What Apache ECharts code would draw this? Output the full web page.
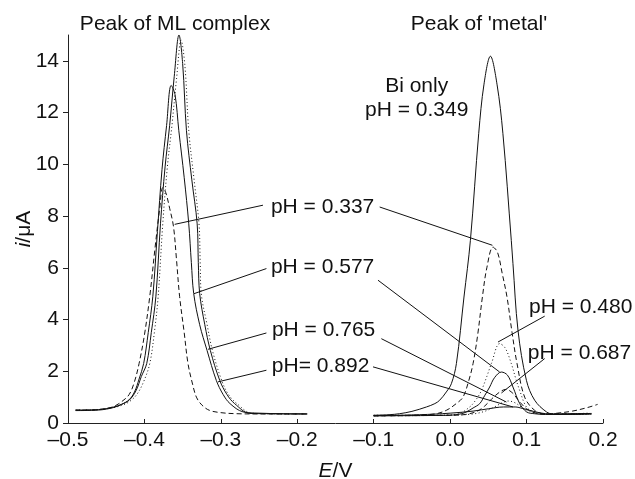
<!DOCTYPE html>
<html>
<head>
<meta charset="utf-8">
<script src="https://cdn.jsdelivr.net/npm/echarts@6/dist/echarts.min.js"></script>
<style>html,body{margin:0;padding:0;background:#fff}#c{width:635px;height:479px}</style>
</head>
<body>
<div id="c"></div>
<script>
// ---- Data: [E / V, i / uA] ----
// Peak of ML complex (left group)
const ml_pH0337 = [[-0.49,0.5],[-0.47,0.5],[-0.45,0.56],[-0.44,0.64],[-0.43,0.82],[-0.42,1.1],[-0.413,1.6],[-0.407,2.3],[-0.4,3.4],[-0.393,4.9],[-0.386,6.8],[-0.38,8.3],[-0.376,9.1],[-0.372,8.9],[-0.367,8.3],[-0.362,7.6],[-0.358,6.3],[-0.354,4.9],[-0.348,3.5],[-0.343,2.3],[-0.337,1.5],[-0.332,1.0],[-0.325,0.7],[-0.315,0.49],[-0.3,0.4],[-0.28,0.36],[-0.25,0.35],[-0.22,0.35],[-0.187,0.35]];
const ml_pH0577 = [[-0.49,0.48],[-0.46,0.5],[-0.44,0.6],[-0.43,0.72],[-0.42,0.9],[-0.413,1.2],[-0.407,1.7],[-0.401,2.3],[-0.395,3.5],[-0.389,4.9],[-0.383,7.4],[-0.377,9.8],[-0.371,11.5],[-0.365,13.05],[-0.36,12.7],[-0.355,11.3],[-0.348,9.5],[-0.342,7.7],[-0.3386,6.2],[-0.3355,5.0],[-0.3277,3.8],[-0.318,2.8],[-0.306,1.65],[-0.297,1.1],[-0.288,0.75],[-0.271,0.43],[-0.25,0.38],[-0.22,0.36],[-0.187,0.35]];
const ml_pH0765 = [[-0.49,0.5],[-0.46,0.52],[-0.44,0.62],[-0.43,0.72],[-0.42,0.88],[-0.411,1.25],[-0.404,1.8],[-0.397,2.3],[-0.391,3.5],[-0.385,4.9],[-0.379,7.7],[-0.373,9.9],[-0.367,11.5],[-0.361,13.4],[-0.3548,15.0],[-0.35,13.9],[-0.345,11.3],[-0.338,9.4],[-0.331,7.7],[-0.3295,6.2],[-0.3277,5.0],[-0.321,3.8],[-0.3137,2.8],[-0.3015,1.65],[-0.292,1.1],[-0.282,0.75],[-0.262,0.37],[-0.24,0.36],[-0.21,0.35],[-0.187,0.35]];
const ml_pH0892 = [[-0.49,0.5],[-0.46,0.52],[-0.44,0.6],[-0.43,0.68],[-0.42,0.82],[-0.41,1.1],[-0.401,1.6],[-0.393,2.3],[-0.387,3.5],[-0.382,4.9],[-0.376,7.7],[-0.37,9.9],[-0.364,11.5],[-0.358,13.3],[-0.352,14.8],[-0.347,13.8],[-0.342,11.3],[-0.335,9.4],[-0.3286,7.7],[-0.327,6.2],[-0.3256,5.0],[-0.318,3.8],[-0.311,2.8],[-0.299,1.65],[-0.29,1.1],[-0.279,0.75],[-0.26,0.38],[-0.24,0.36],[-0.21,0.35],[-0.187,0.35]];

// Peak of 'metal' (right group)
const mt_BiOnly = [[-0.1,0.3],[-0.08,0.32],[-0.066,0.36],[-0.05,0.45],[-0.031,0.62],[-0.02,0.75],[-0.0137,0.88],[-0.005,1.2],[0.0016,1.52],[0.0082,2.3],[0.0181,4.87],[0.0265,7.06],[0.0374,11.2],[0.0443,13.1],[0.0527,14.18],[0.0613,13.1],[0.069,11.2],[0.08,7.06],[0.0822,6.16],[0.0888,3.58],[0.0998,1.65],[0.1106,0.88],[0.126,0.43],[0.135,0.35],[0.15,0.35],[0.17,0.36],[0.185,0.37]];
const mt_pH0337 = [[-0.1,0.28],[-0.05,0.3],[-0.02,0.35],[-0.005,0.49],[0.008,0.75],[0.0168,1.0],[0.024,1.6],[0.03,2.3],[0.036,3.4],[0.0422,4.87],[0.048,6.0],[0.0561,6.8],[0.062,6.6],[0.068,5.8],[0.0744,4.87],[0.081,3.5],[0.0875,2.3],[0.0975,1.0],[0.1106,0.49],[0.125,0.35],[0.15,0.35],[0.185,0.36]];
const mt_pH0480 = [[-0.1,0.3],[-0.02,0.3],[0.01,0.35],[0.0256,0.62],[0.035,0.95],[0.041,1.26],[0.048,1.8],[0.054,2.3],[0.0648,3.07],[0.072,2.9],[0.08,2.3],[0.086,1.7],[0.091,1.26],[0.0998,0.62],[0.11,0.42],[0.125,0.35],[0.15,0.35],[0.18,0.38]];
const mt_pH0577 = [[-0.1,0.28],[0.0,0.3],[0.015,0.36],[0.0213,0.43],[0.03,0.58],[0.0387,0.75],[0.045,1.05],[0.0517,1.39],[0.058,1.75],[0.067,1.97],[0.075,1.85],[0.0822,1.39],[0.091,0.75],[0.1,0.43],[0.11,0.36],[0.125,0.33],[0.15,0.34],[0.18,0.36]];
const mt_pH0687 = [[-0.1,0.28],[0.0,0.3],[0.02,0.33],[0.035,0.45],[0.045,0.65],[0.055,0.95],[0.065,1.2],[0.073,1.3],[0.082,1.15],[0.09,0.85],[0.1,0.55],[0.11,0.4],[0.125,0.34],[0.14,0.38],[0.16,0.46],[0.18,0.6],[0.193,0.72]];
const mt_pH0765 = [[-0.1,0.28],[0.0,0.3],[0.03,0.35],[0.045,0.45],[0.058,0.62],[0.068,0.78],[0.076,0.85],[0.085,0.78],[0.095,0.58],[0.105,0.45],[0.115,0.38],[0.13,0.34],[0.16,0.35],[0.185,0.37]];
const mt_pH0892 = [[-0.1,0.28],[-0.04,0.32],[0.0,0.38],[0.03,0.46],[0.05,0.55],[0.07,0.62],[0.085,0.62],[0.095,0.56],[0.104,0.49],[0.115,0.41],[0.125,0.36],[0.14,0.33],[0.16,0.33],[0.185,0.34]];

// Annotation texts and their anchor positions (data units)
const noteTexts = ['pH = 0.337','pH = 0.577','pH = 0.765','pH= 0.892','pH = 0.480','pH = 0.687','Bi only','pH = 0.349'];
const noteE     = [-0.1669,-0.1669,-0.1656,-0.1695,0.1708,0.1693,-0.0438,-0.0438];
const noteI     = [8.34,6.02,3.58,2.19,4.47,2.70,13.02,12.09];

// Leader lines: [[E1,i1],[E2,i2]]
const leaders = [
  [[-0.3604,7.68],[-0.2449,8.42]],
  [[-0.0922,8.35],[0.0553,6.87]],
  [[-0.3351,5.00],[-0.2404,5.97]],
  [[-0.0944,5.52],[0.0648,1.97]],
  [[-0.3168,2.85],[-0.2404,3.48]],
  [[-0.0900,3.26],[0.0736,0.81]],
  [[-0.3037,1.59],[-0.2404,2.04]],
  [[-0.1009,2.17],[0.0822,0.62]],
  [[0.1237,4.13],[0.0626,3.13]],
  [[0.1237,2.49],[0.0671,1.16]]
];

const panelTitles = ['Peak of ML complex', "Peak of 'metal'"];
const xTicks = [-0.5,-0.4,-0.3,-0.2,-0.1,0.0,0.1,0.2];
const yTicks = [0,2,4,6,8,10,12,14];

// ---- Chart ----
const FONT = 'Liberation Sans, Arial, Helvetica, sans-serif';
const FS = 21;
const INK = '#111';
const SOLID = 'solid', DASH = [5,3], DOT = [1,2.5];

function curve(data, type) {
  return { type:'line', data:data, smooth:0.35, symbol:'none', silent:true,
    lineStyle:{ color:INK, width:1, type:type }, z:3 };
}
const series = [
  curve(ml_pH0337, DASH), curve(ml_pH0577, SOLID), curve(ml_pH0765, SOLID), curve(ml_pH0892, DOT),
  curve(mt_BiOnly, SOLID), curve(mt_pH0337, DASH), curve(mt_pH0480, DOT), curve(mt_pH0577, SOLID),
  curve(mt_pH0687, DASH), curve(mt_pH0765, DOT), curve(mt_pH0892, SOLID)
];
leaders.forEach(l => series.push({ type:'line', data:l, symbol:'none', silent:true,
  lineStyle:{ color:INK, width:1 }, z:4 }));
series.push({
  type:'scatter', clip:false, silent:true, symbolSize:0, itemStyle:{ color:INK, opacity:1 },
  data: noteTexts.map((t,k) => ({ value:[noteE[k], noteI[k]], name:t })),
  label:{ show:true, position:[0,0], formatter:p => p.name, color:INK, opacity:1,
    textBorderWidth:0, fontFamily:FONT, fontSize:FS, align:'center', verticalAlign:'middle' },
  z:5
});

const chart = echarts.init(document.getElementById('c'), null, { renderer:'canvas' });
chart.setOption({
  animation:false,
  backgroundColor:'#fff',
  grid:{ left:68, right:32, top:35, bottom:56, containLabel:false, outerBoundsMode:'none' },
  graphic:[
    { type:'text', x:175, y:24, style:{ text:panelTitles[0], font:FS+'px '+FONT, fill:INK, textAlign:'center', textVerticalAlign:'middle' } },
    { type:'text', x:479, y:24, style:{ text:panelTitles[1], font:FS+'px '+FONT, fill:INK, textAlign:'center', textVerticalAlign:'middle' } }
  ],
  xAxis:{
    type:'value', min:-0.5, max:0.2, interval:0.1,
    name:'{it|E}/V', nameLocation:'middle', nameGap:38, nameMoveOverlap:false,
    nameTextStyle:{ fontFamily:FONT, fontSize:FS, color:INK, rich:{ it:{ fontStyle:'italic', fontFamily:FONT, fontSize:FS, color:INK } } },
    axisLine:{ show:true, onZero:false, lineStyle:{ color:'#222', width:1 } },
    axisTick:{ show:true, inside:true, length:4, lineStyle:{ color:'#222' }, customValues:xTicks },
    axisLabel:{ fontFamily:FONT, fontSize:FS, color:INK, margin:7, customValues:xTicks,
      formatter:v => (v < -1e-9 ? '\u2013' : '') + Math.abs(v).toFixed(1) },
    splitLine:{ show:false }
  },
  yAxis:{
    type:'value', min:0, max:15, interval:1,
    name:'{it|i}/\u03bcA', nameLocation:'middle', nameGap:33, nameRotate:90, nameMoveOverlap:false,
    nameTextStyle:{ fontFamily:FONT, fontSize:FS, color:INK, rich:{ it:{ fontStyle:'italic', fontFamily:FONT, fontSize:FS, color:INK } } },
    axisLine:{ show:true, onZero:false, lineStyle:{ color:'#222', width:1 } },
    axisTick:{ show:true, inside:false, length:5, lineStyle:{ color:'#222' }, customValues:yTicks },
    axisLabel:{ fontFamily:FONT, fontSize:FS, color:INK, margin:9, customValues:yTicks },
    splitLine:{ show:false }
  },
  series:series
});
</script>
</body>
</html>
